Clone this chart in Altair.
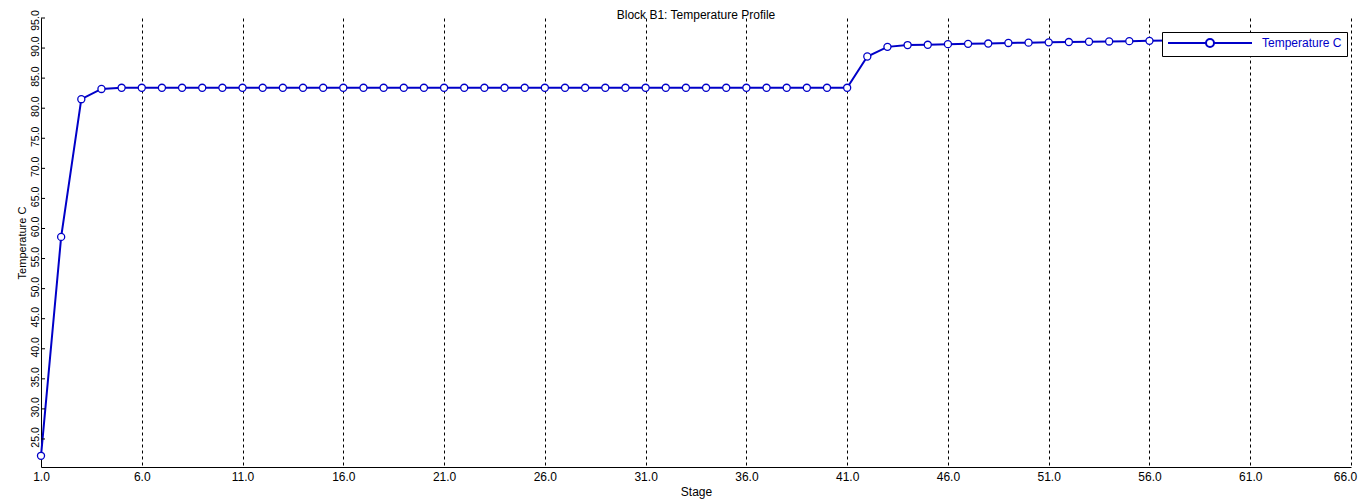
import altair as alt
import pandas as pd

stages = list(range(1, 58))
temps = [22.2, 58.6, 81.5, 83.2] + [83.4] * 37 + [
    88.6, 90.2, 90.5, 90.55, 90.65, 90.7, 90.75, 90.85, 90.9, 90.95,
    91.0, 91.05, 91.1, 91.15, 91.2, 91.25]
x_ticks = list(range(1, 67, 5))
y_ticks = list(range(25, 96, 5))

BLUE = "#0000C8"
FONT = "Liberation Sans"

df = pd.DataFrame({"Stage": stages, "Temp": temps, "series": "Temperature C"})
ticks_df = pd.DataFrame({"t": y_ticks})

xscale = alt.Scale(domain=[1, 66], nice=False, zero=False)
yscale = alt.Scale(domain=[20.34, 95], nice=False, zero=False)

xaxis = alt.Axis(values=x_ticks, format=".1f", tickSize=0, labelPadding=4,
                 grid=True, gridDash=[3, 3], gridColor="black", gridOpacity=1,
                 domainColor="black", labelColor="black", labelFontSize=12,
                 title="Stage", titleFontSize=12, titleFontWeight="normal",
                 titlePadding=4, titleColor="black", labelFlush=False,
                 labelOverlap=False,
                 labelOffset={"condition": {"test": "datum.value == 66", "value": -6},
                              "value": 0})
yaxis = alt.Axis(values=y_ticks, format=".1f", tickSize=0, labelPadding=1,
                 labelAngle=-90, labelAlign="center", labelBaseline="bottom",
                 grid=False, domainColor="black", labelColor="black",
                 labelFontSize=10.5, title="Temperature C", titleFontSize=11,
                 titleFontWeight="normal", titlePadding=3, titleColor="black",
                 labelOverlap=False,
                 labelOffset={"condition": {"test": "datum.value == 95", "value": 2},
                              "value": -2})

legend_path = ("M-10.5,0H-1M1,0H10.5M1,0A1,1 0 1,1 -1,0A1,1 0 1,1 1,0Z")

line = alt.Chart(df).mark_line(strokeWidth=2).encode(
    x=alt.X("Stage:Q", scale=xscale, axis=xaxis),
    y=alt.Y("Temp:Q", scale=yscale, axis=yaxis),
    color=alt.Color("series:N", scale=alt.Scale(range=[BLUE]),
                    legend=alt.Legend(title=None, orient="none", legendX=1121,
                                      legendY=14, symbolType=legend_path,
                                      symbolSize=64, symbolStrokeWidth=2,
                                      symbolOffset=37, labelOffset=46,
                                      labelColor=BLUE, labelFontSize=12,
                                      labelFont=FONT, padding=5,
                                      fillColor="white", strokeColor="black",
                                      cornerRadius=0)),
)

points = alt.Chart(df).mark_point(shape="circle", filled=True, fill="white",
                                  stroke=BLUE, strokeWidth=1.3, size=50,
                                  opacity=1).encode(
    x=alt.X("Stage:Q", scale=xscale, axis=xaxis),
    y=alt.Y("Temp:Q", scale=yscale, axis=yaxis),
)

yticks = alt.Chart(ticks_df).mark_rule(color="black", strokeWidth=1).encode(
    x=alt.value(0), x2=alt.value(4),
    y=alt.Y("t:Q", scale=yscale, axis=yaxis),
)

chart = alt.layer(line, points, yticks).properties(
    width=1310, height=449,
    title=alt.TitleParams("Block B1: Temperature Profile", fontSize=12,
                          fontWeight="normal", font=FONT, color="black",
                          offset=2, anchor="middle", frame="group", dy=14),
    autosize=alt.AutoSizeParams(type="none"),
    padding={"left": 33, "top": 10, "right": 7, "bottom": 34},
).configure(font=FONT).configure_view(stroke=None).configure_axis(
    labelFont=FONT, titleFont=FONT, labelOverlap=False)

chart.save("out.html", embed_options={"renderer": "svg", "actions": False})
